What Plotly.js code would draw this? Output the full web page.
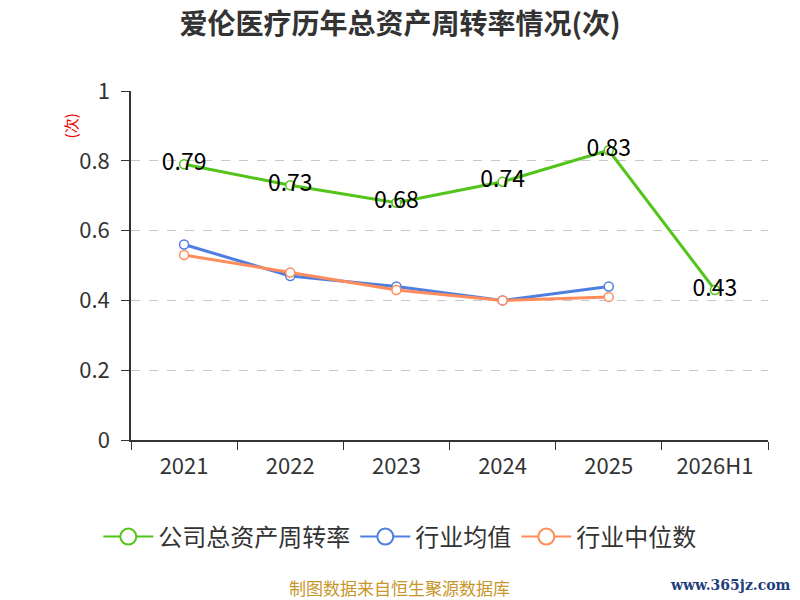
<!DOCTYPE html>
<html>
<head>
<meta charset="utf-8">
<script src="https://cdn.plot.ly/plotly-3.0.1.min.js"></script>
<style>
  html, body { margin: 0; padding: 0; background: #fff; }
  #plot { width: 800px; height: 600px; }
</style>
</head>
<body>
<div id="plot"></div>
<script>
var years = ['2021', '2022', '2023', '2024', '2025', '2026H1'];
var companyRate = [0.79, 0.73, 0.68, 0.74, 0.83, 0.43];
var industryAvg = [0.56, 0.47, 0.44, 0.40, 0.44];
var industryMedian = [0.53, 0.48, 0.43, 0.40, 0.41];
var seriesNames = ['公司总资产周转率', '行业均值', '行业中位数'];
var seriesColors = ['#52c41a', '#4e7fe0', '#ff8c5a'];
var yTicks = [0, 0.2, 0.4, 0.6, 0.8, 1];
var yTickText = ['0', '0.2', '0.4', '0.6', '0.8', '1'];

var font = '"Noto Sans CJK SC", "Noto Sans", sans-serif';

function lineTrace(x, y, i) {
    return {
        x: x,
        y: y,
        name: seriesNames[i],
        type: 'scatter',
        mode: 'lines+markers',
        showlegend: false,
        line: {color: seriesColors[i], width: 3},
        marker: {symbol: 'circle', size: 9, color: '#fff', line: {color: seriesColors[i], width: 1.5}},
        cliponaxis: false
    };
}

// legend-only entries, so the legend circles can be larger than the plot markers
function legendTrace(i) {
    return {
        x: [null],
        y: [null],
        name: seriesNames[i],
        type: 'scatter',
        mode: 'lines+markers',
        line: {color: seriesColors[i], width: 2},
        marker: {symbol: 'circle', size: 16, color: '#fff', line: {color: seriesColors[i], width: 2}}
    };
}

var company = lineTrace(years, companyRate, 0);
company.mode = 'lines+markers+text';
company.text = companyRate.map(function (v) { return v.toFixed(2); });
company.textposition = 'middle center';
company.textfont = {size: 23, color: '#000', family: font};

var avg = lineTrace(years.slice(0, industryAvg.length), industryAvg, 1);
var median = lineTrace(years.slice(0, industryMedian.length), industryMedian, 2);

var layout = {
    width: 800,
    height: 600,
    margin: {l: 131, r: 32, t: 91, b: 160},
    paper_bgcolor: '#fff',
    plot_bgcolor: '#fff',
    font: {family: font, color: '#333'},
    title: {
        text: '<b>爱伦医疗历年总资产周转率情况(次)</b>',
        font: {size: 28, color: '#333', family: font},
        x: 0.5, xanchor: 'center', y: 0.96, yanchor: 'middle'
    },
    xaxis: {
        type: 'category',
        range: [-0.5, 5.5],
        showline: true,
        linecolor: '#333',
        linewidth: 1.5,
        ticks: 'outside',
        ticklen: 8,
        tickcolor: '#333',
        tickson: 'boundaries',
        ticklabelstandoff: 6,
        showgrid: false,
        tickfont: {size: 22, color: '#333', family: font},
        zeroline: false
    },
    yaxis: {
        range: [0, 1],
        tickvals: yTicks,
        ticktext: yTickText,
        showline: true,
        linecolor: '#333',
        linewidth: 1.5,
        ticks: 'outside',
        ticklen: 8,
        tickcolor: '#333',
        ticklabelstandoff: 7,
        tickfont: {size: 22, color: '#333', family: font},
        showgrid: true,
        gridcolor: '#c8c8c8',
        griddash: 'dash',
        gridwidth: 1.2,
        zeroline: false
    },
    showlegend: true,
    legend: {
        orientation: 'h',
        x: 0.422, xanchor: 'center',
        y: -0.278, yanchor: 'middle',
        font: {size: 24, color: '#333', family: font},
        itemwidth: 50
    },
    annotations: [
        {
            text: '(次)', xref: 'paper', yref: 'paper',
            x: -0.095, y: 0.9, xanchor: 'center', yanchor: 'middle',
            textangle: -90, showarrow: false,
            font: {size: 15, color: '#e00', family: font}
        },
        {
            text: '制图数据来自恒生聚源数据库', xref: 'paper', yref: 'paper',
            x: 0.422, y: -0.422, xanchor: 'center', yanchor: 'middle',
            showarrow: false,
            font: {size: 17, color: '#c8962a', family: font}
        },
        {
            text: '<b>www.365jz.com</b>', xref: 'paper', yref: 'paper',
            x: 1.04, y: -0.415, xanchor: 'right', yanchor: 'middle',
            showarrow: false,
            font: {size: 14, color: '#1f3e7a', family: '"DejaVu Serif", "Liberation Serif", serif'}
        }
    ]
};

var traces = [company, avg, median, legendTrace(0), legendTrace(1), legendTrace(2)];
Plotly.newPlot('plot', traces, layout, {displayModeBar: false});
</script>
</body>
</html>
